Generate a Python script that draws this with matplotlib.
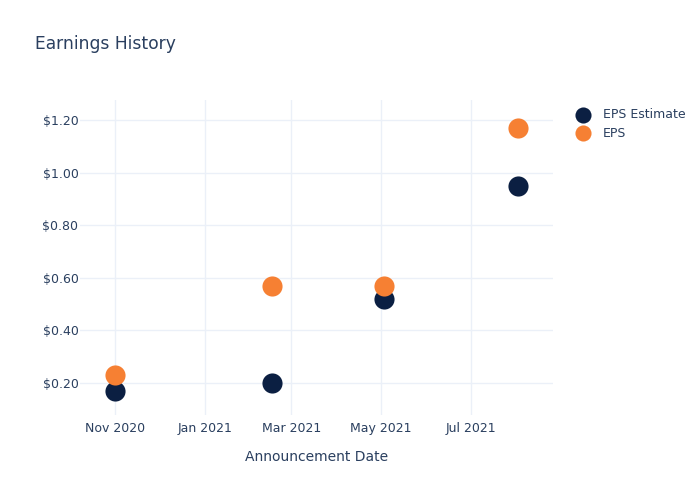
import matplotlib.pyplot as plt
import matplotlib.dates as mdates
import pandas as pd

# データ
dates = pd.to_datetime(['2020-11-01', '2021-02-16', '2021-05-03', '2021-08-02'])
eps_estimate = [0.17, 0.20, 0.52, 0.95]
eps_actual = [0.23, 0.57, 0.57, 1.17]
y_ticks = [0.20, 0.40, 0.60, 0.80, 1.00, 1.20]

text_color = '#2a3f5f'
grid_color = '#ebf0f8'

fig = plt.figure(figsize=(7, 5), dpi=100)
ax = fig.add_axes([0.114, 0.17, 0.676, 0.63])

ax.scatter(dates, eps_estimate, s=210, color='#0b1f42', label='EPS Estimate', zorder=3, linewidths=0)
ax.scatter(dates, eps_actual, s=210, color='#f68033', label='EPS', zorder=3, linewidths=0)

ax.set_xlim(pd.Timestamp('2020-10-08'), pd.Timestamp('2021-08-26'))
ax.set_ylim(0.078, 1.276)
ax.set_yticks(y_ticks)
ax.set_yticklabels([f'${v:.2f}' for v in y_ticks])
ax.xaxis.set_major_locator(mdates.MonthLocator(bymonth=[1, 3, 5, 7, 11]))
ax.xaxis.set_major_formatter(mdates.DateFormatter('%b %Y'))

for s in ax.spines.values():
    s.set_visible(False)
ax.grid(True, color=grid_color, linewidth=1)
ax.set_axisbelow(True)
ax.tick_params(length=0, labelsize=9, colors=text_color)
ax.tick_params(axis='y', pad=1)
ax.tick_params(axis='x', pad=5)

ax.set_xlabel('Announcement Date', fontsize=10, color=text_color, labelpad=11)
fig.text(0.05, 0.912, 'Earnings History', fontsize=12.3, color=text_color, va='center')

leg = ax.legend(loc='upper left', bbox_to_anchor=(1.026, 0.99), frameon=False,
                fontsize=9, labelcolor=text_color, markerscale=0.8,
                handletextpad=0.6, borderaxespad=0, labelspacing=0.45)

fig.savefig('out.png', dpi=100)
